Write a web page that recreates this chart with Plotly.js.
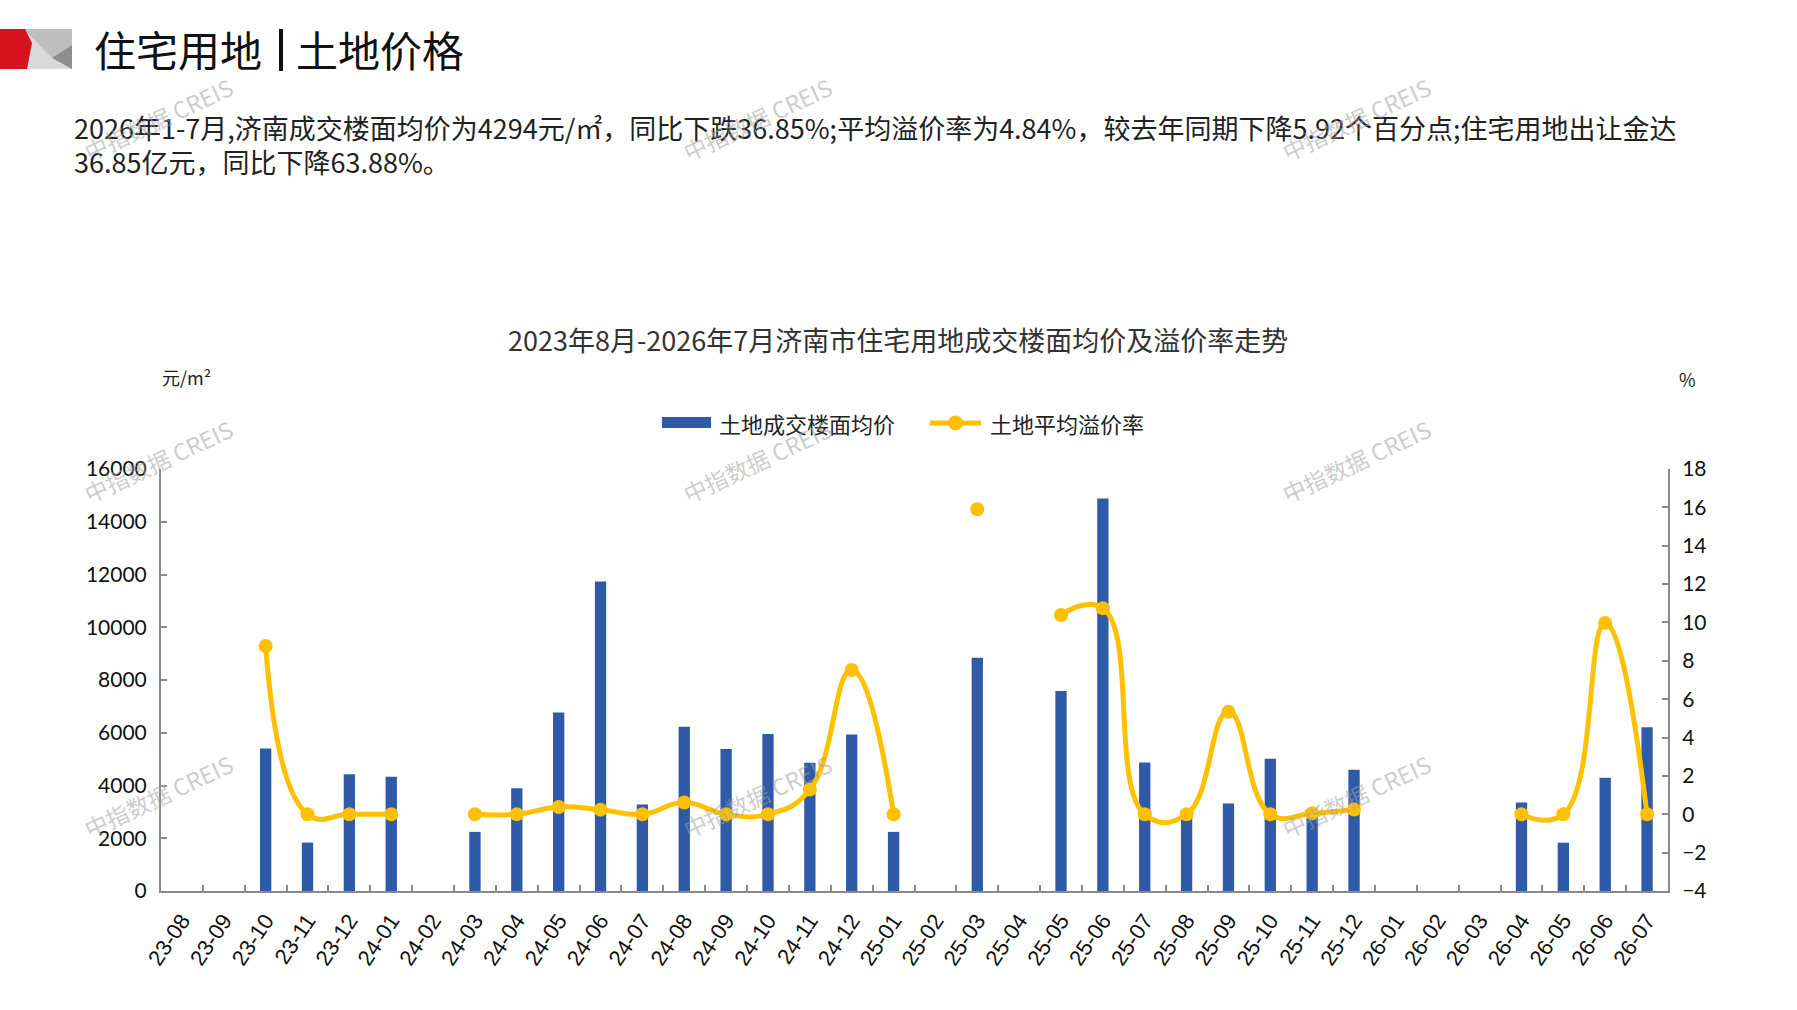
<!DOCTYPE html>
<html>
<head>
<meta charset="utf-8">
<script src="https://cdn.plot.ly/plotly-3.0.1.min.js"></script>
<style>
  html, body { margin: 0; padding: 0; background: #fff; }
  #chart { width: 1797px; height: 1010px; }
</style>
</head>
<body>
<div id="chart"></div>
<script>
// ── data ──────────────────────────────────────────────
const months = ['23-08', '23-09', '23-10', '23-11', '23-12', '24-01', '24-02', '24-03', '24-04',
  '24-05', '24-06', '24-07', '24-08', '24-09', '24-10', '24-11', '24-12', '25-01', '25-02',
  '25-03', '25-04', '25-05', '25-06', '25-07', '25-08', '25-09', '25-10', '25-11', '25-12',
  '26-01', '26-02', '26-03', '26-04', '26-05', '26-06', '26-07'];

// 土地成交楼面均价 (元/㎡)
const floorPrice = [null, null, 5405, 1835, 4430, 4329, null, 2241, 3899,
  6772, 11734, 3278, 6228, 5380, 5949, 4861, 5937, 2241, null,
  8848, null, 7582, 14886, 4873, 2900, 3320, 5010, 2850, 4600,
  null, null, null, 3356, 1832, 4290, 6205];

// 土地平均溢价率 (%)
const premiumRate = [null, null, 8.77, 0, 0, 0, null, 0, 0,
  0.38, 0.24, 0, 0.61, 0, 0, 1.29, 7.52, 0, null,
  15.9, null, 10.39, 10.74, 0, 0, 5.34, 0, 0.05, 0.25,
  null, null, null, 0, 0, 9.97, 0];

const yLeftTicks = [0, 2000, 4000, 6000, 8000, 10000, 12000, 14000, 16000];
const yRightTicks = [-4, -2, 0, 2, 4, 6, 8, 10, 12, 14, 16, 18];

const pageTitle = ['住宅用地', '土地价格'];
const summary = [
  '2026年1-7月,济南成交楼面均价为4294元/㎡，同比下跌36.85%;平均溢价率为4.84%，较去年同期下降5.92个百分点;住宅用地出让金达',
  '36.85亿元，同比下降63.88%。',
];
const chartTitle = '2023年8月-2026年7月济南市住宅用地成交楼面均价及溢价率走势';
const seriesNames = ['土地成交楼面均价', '土地平均溢价率'];
const watermark = '中指数据 CREIS';

// ── styling ───────────────────────────────────────────
const W = 1797, H = 1010;
const M = { l: 161, r: 129, t: 469, b: 119 };
const BLUE = '#2E5AA7';
const GOLD = '#FFC000';
const AXIS = '#8A8A8A';
const CJK = '"Noto Sans CJK SC", "Noto Sans", sans-serif';

// pixel -> paper helpers (paper = plot area)
const pw = W - M.l - M.r, ph = H - M.t - M.b;
const px = (x) => (x - M.l) / pw;
const py = (y) => (H - M.b - y) / ph;

function note(text, x, y, size, extra) {
  return Object.assign({
    text, xref: 'paper', yref: 'paper', x: px(x), y: py(y),
    showarrow: false, xanchor: 'left', yanchor: 'middle',
    font: { family: CJK, size, color: '#222' },
  }, extra || {});
}

function poly(pts, color) {
  const d = pts.map((p, i) => (i ? 'L' : 'M') + px(p[0]) + ',' + py(p[1])).join(' ') + ' Z';
  return { type: 'path', xref: 'paper', yref: 'paper', path: d, fillcolor: color, line: { width: 0 }, layer: 'above' };
}

const traces = [
  {
    type: 'bar', x: months, y: floorPrice, name: seriesNames[0],
    marker: { color: BLUE }, width: 0.27, yaxis: 'y',
    hovertemplate: '%{x}<br>%{y} 元/㎡<extra></extra>',
  },
  {
    type: 'scatter', mode: 'lines+markers', x: months, y: premiumRate, name: seriesNames[1],
    yaxis: 'y2', connectgaps: false,
    line: { color: GOLD, width: 5, shape: 'spline', smoothing: 1.3 },
    marker: { color: GOLD, size: 14 },
    hovertemplate: '%{x}<br>%{y}%<extra></extra>',
  },
];

// header logo + divider
const shapes = [
  poly([[24, 29], [72, 29], [72, 69], [24, 69]], '#D9D9D9'),
  poly([[24, 29], [72, 29], [72, 45], [52, 58]], '#BEBEBE'),
  poly([[72, 45], [72, 69], [52, 58]], '#8E8E8E'),
  poly([[0, 29], [25, 29], [32, 43], [27, 69], [0, 69]], '#D7141D'),
  { type: 'line', xref: 'paper', yref: 'paper', x0: px(281), x1: px(281), y0: py(29), y1: py(71),
    line: { color: '#111', width: 4 } },
  // custom legend glyphs
  { type: 'rect', xref: 'paper', yref: 'paper', x0: px(662), x1: px(711), y0: py(417), y1: py(428),
    fillcolor: BLUE, line: { width: 0 } },
  { type: 'line', xref: 'paper', yref: 'paper', x0: px(930), x1: px(981), y0: py(423), y1: py(423),
    line: { color: GOLD, width: 5 } },
  { type: 'circle', xref: 'paper', yref: 'paper', x0: px(948), x1: px(963), y0: py(415.5), y1: py(430.5),
    fillcolor: GOLD, line: { width: 0 } },
];

const annotations = [
  note(pageTitle[0], 92, 48, 42, { font: { family: CJK, size: 42, color: '#111' } }),
  note(pageTitle[1], 294, 48, 42, { font: { family: CJK, size: 42, color: '#111' } }),
  note(summary[0], 72, 127, 27),
  note(summary[1], 72, 161, 27),
  note(chartTitle, 898, 339, 27, { xanchor: 'center', font: { family: CJK, size: 27, color: '#333' } }),
  note('元/m²', 160, 377, 18),
  note('%', 1677, 379, 18),
  note(seriesNames[0], 717, 423, 22),
  note(seriesNames[1], 988, 423, 22),
];

// watermarks
[[158, 119], [757, 119], [1356, 119], [158, 461], [757, 461], [1356, 461], [158, 796], [757, 796], [1356, 796]]
  .forEach(([x, y]) => annotations.push(note(watermark, x, y, 23, {
    xanchor: 'center', textangle: -25,
    font: { family: CJK, size: 23, color: 'rgba(160,160,160,0.55)' },
  })));

const layout = {
  width: W, height: H,
  margin: M,
  paper_bgcolor: '#fff', plot_bgcolor: '#fff',
  showlegend: false,
  font: { family: CJK, color: '#222' },
  xaxis: {
    type: 'category', categoryorder: 'array', categoryarray: months,
    range: [-0.5, months.length - 0.5],
    showline: true, linecolor: AXIS, linewidth: 2,
    ticks: 'inside', tickson: 'boundaries', ticklen: 6, tickcolor: AXIS, tickwidth: 1.5,
    tickangle: -56, ticklabelstandoff: 6,
    tickfont: { family: '"Liberation Sans", Arial, sans-serif', size: 22, color: '#111' },
    showgrid: false, zeroline: false, fixedrange: true,
  },
  yaxis: {
    range: [0, 16000], tickvals: yLeftTicks, tickformat: 'd',
    showline: true, linecolor: AXIS, linewidth: 2,
    ticks: 'inside', ticklen: 6, tickcolor: AXIS, tickwidth: 1.5, ticklabelstandoff: 8,
    tickfont: { family: 'Lato, "Noto Sans", sans-serif', size: 21, color: '#111' },
    showgrid: false, zeroline: false, fixedrange: true,
  },
  yaxis2: {
    overlaying: 'y', side: 'right',
    range: [-4, 18], tickvals: yRightTicks,
    showline: true, linecolor: AXIS, linewidth: 2,
    ticks: 'inside', ticklen: 6, tickcolor: AXIS, tickwidth: 1.5, ticklabelstandoff: 8,
    tickfont: { family: 'Lato, "Noto Sans", sans-serif', size: 21, color: '#111' },
    showgrid: false, zeroline: false, fixedrange: true,
  },
  shapes,
  annotations,
};

Plotly.newPlot('chart', traces, layout, { displayModeBar: false });
</script>
</body>
</html>
